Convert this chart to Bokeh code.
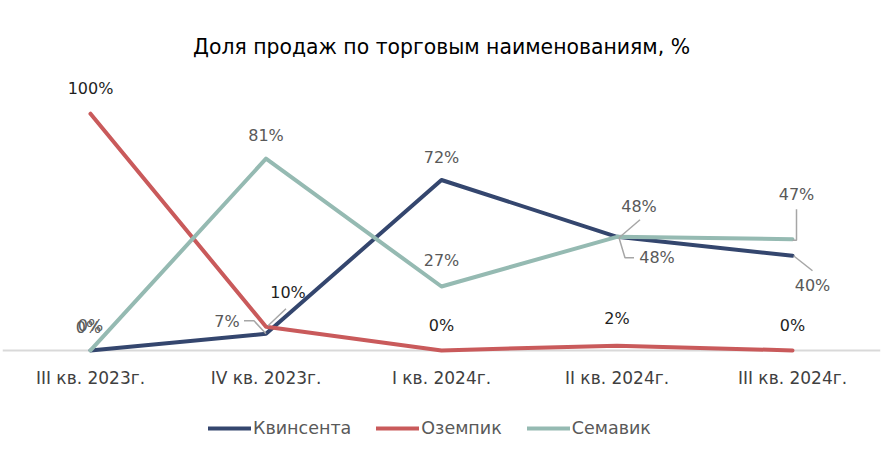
from bokeh.plotting import figure
from bokeh.layouts import column
from bokeh.models import Range1d, FixedTicker, Span, Legend, LegendItem
from bokeh.embed import file_html
from bokeh.resources import INLINE
from bokeh.core.properties import value

# ---- data ----
categories = ["III кв. 2023г.", "IV кв. 2023г.", "I кв. 2024г.", "II кв. 2024г.", "III кв. 2024г."]
kvinsenta = [0, 7, 72, 48, 40]
ozempik = [100, 10, 0, 2, 0]
semavik = [0, 81, 27, 48, 47]
series_names = ["Квинсента", "Оземпик", "Семавик"]
title_text = "Доля продаж по торговым наименованиям, %"

# ---- styles ----
FONT = "DejaVu Sans"
colors = ["#34466E", "#C95A5B", "#95BAB2"]
label_colors = ["#595959", "#1F1F1F", "#595959"]
# label offsets in screen px (dx, dy; dy positive = down)
label_offsets = [
    [(0, -25), (-39, -12), (0, -23), (40, 21), (20, 30)],
    [(0, -25), (22, -34), (0, -25), (0, -27), (0, -25)],
    [(-2, -23), (0, -23), (0, -26), (22, -30), (4, -45)],
]
# leader lines: (series, point index, list of px offsets)
leaders = [
    (0, 1, [(0, 0), (-12, -13), (-22, -13)]),
    (1, 1, [(2, -1), (20, -18)]),
    (2, 3, [(2, 1), (23, -17)]),
    (0, 3, [(2, 1), (8, 21), (17, 21)]),
    (2, 4, [(0, 1), (4, 1), (4, -30)]),
    (0, 4, [(1, 0), (20, 15)]),
]

W, H = 887, 404
TOP, BOTTOM, LEFT, RIGHT = 73, 47, 2, 7
x0, x1 = -0.5014, 4.5014
y0, y1 = -3, 117
sx = (W - LEFT - RIGHT) / (x1 - x0)
sy = (H - TOP - BOTTOM) / (y1 - y0)

p = figure(width=W, height=H, x_range=Range1d(x0, x1), y_range=Range1d(y0, y1),
           output_backend="svg", toolbar_location=None, y_axis_location=None,
           min_border_left=LEFT, min_border_right=RIGHT,
           min_border_top=TOP, min_border_bottom=BOTTOM,
           title=title_text)
p.outline_line_color = None
p.background_fill_color = "white"
p.border_fill_color = "white"
p.xgrid.visible = False
p.ygrid.visible = False

p.title.align = "center"
p.title.text_font = FONT
p.title.text_font_size = "20.4px"
p.title.text_font_style = "normal"
p.title.text_color = "#000000"
p.title.standoff = 30

ax = p.xaxis[0]
ax.ticker = FixedTicker(ticks=list(range(len(categories))))
ax.major_label_overrides = {i: c for i, c in enumerate(categories)}
ax.axis_line_color = None
ax.major_tick_line_color = None
ax.minor_tick_line_color = None
ax.major_label_standoff = 4
ax.major_label_text_font = FONT
ax.major_label_text_font_size = "17px"
ax.major_label_text_color = "#404040"

p.add_layout(Span(location=0, dimension="width", line_color="#D9D9D9",
                  line_width=2, level="underlay"))

xs = list(range(len(categories)))
all_series = [kvinsenta, ozempik, semavik]
for vals, col in zip(all_series, colors):
    p.line(xs, vals, line_color=col, line_width=4, line_join="round", line_cap="round")

# leader lines
lx, ly = [], []
for si, pi, pts in leaders:
    bx, by = xs[pi], all_series[si][pi]
    lx.append([bx + dx / sx for dx, dy in pts])
    ly.append([by - dy / sy for dx, dy in pts])
p.multi_line(lx, ly, line_color="#A6A6A6", line_width=1.5)

# data labels
for vals, offs, lc in zip(all_series, label_offsets, label_colors):
    for xv, v, (dx, dy) in zip(xs, vals, offs):
        p.text(x=[xv], y=[v], text=[f"{v}%"], x_offset=dx, y_offset=dy,
               text_align="center", text_baseline="middle",
               text_font=value(FONT), text_font_size="16px", text_color=lc)

# ---- legend strip ----
q = figure(width=W, height=48, x_range=Range1d(0, 1), y_range=Range1d(0, 1),
           output_backend="svg", toolbar_location=None,
           x_axis_location=None, y_axis_location=None,
           min_border_left=0, min_border_right=0, min_border_top=0, min_border_bottom=0)
q.outline_line_color = None
q.xgrid.visible = False
q.ygrid.visible = False
# legend-only renderers, placed outside the visible range
leg_renderers = [q.line(x=[-10, -9], y=[-10, -9], line_color=c, line_width=4, line_cap="round")
                 for c in colors]
legend = Legend(items=[LegendItem(label=n, renderers=[r]) for n, r in zip(series_names, leg_renderers)],
                orientation="horizontal", location=(206, 14),
                glyph_width=43, glyph_height=20, label_standoff=2, spacing=25,
                label_height=20,
                label_text_font=FONT, label_text_font_size="17.5px",
                label_text_color="#595959", border_line_color=None,
                background_fill_alpha=0, margin=0, padding=0)
q.add_layout(legend, "center")

open("out.html", "w").write(file_html(column(p, q, spacing=0), INLINE))
